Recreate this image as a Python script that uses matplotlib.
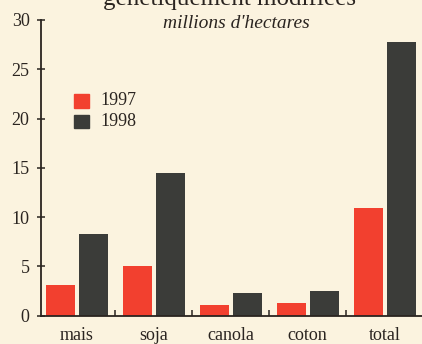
import matplotlib
matplotlib.use("Agg")
import matplotlib.pyplot as plt
import numpy as np

# Surfaces en cultures génétiquement modifiées (millions d'hectares)
categories = ["mais", "soja", "canola", "coton", "total"]
values_1997 = [3.1, 5.0, 1.05, 1.25, 10.9]
values_1998 = [8.3, 14.5, 2.3, 2.5, 27.8]
series_labels = ["1997", "1998"]
yticks = [0, 5, 10, 15, 20, 25, 30]

bg = "#fbf3df"
red = "#f2402f"
dark = "#3b3c39"
ink = "#2a2420"
font = "Liberation Serif"

fig = plt.figure(figsize=(4.22, 3.44), dpi=100, facecolor=bg)
ax = fig.add_axes([0.0964, 0.0823, 1 - 0.0964, 0.9419 - 0.0823], facecolor=bg)

x = np.arange(len(categories))
w = 0.377
off = 0.215
ax.bar(x - off, values_1997, w, color=red, zorder=2)
ax.bar(x + off, values_1998, w, color=dark, zorder=2)

ax.set_xlim(-0.4675, 4.484)
ax.set_ylim(0, 30)

for s in ["top", "right"]:
    ax.spines[s].set_visible(False)
for s in ["left", "bottom"]:
    ax.spines[s].set_color(ink)
    ax.spines[s].set_linewidth(1.3)

ax.set_yticks(yticks)
ax.set_yticklabels([str(v) for v in yticks], fontfamily=font, fontsize=13, color=ink)
ax.tick_params(axis="y", direction="inout", length=6, width=1.1, color=ink, pad=5)

ax.set_xticks(x)
ax.set_xticklabels(categories, fontfamily=font, fontsize=13, color=ink)
ax.tick_params(axis="x", which="major", length=0, pad=8)
ax.set_xticks(x[:-1] + 0.5, minor=True)
ax.tick_params(axis="x", which="minor", direction="in", length=4, width=1.1, color=ink)

# Legend drawn as two square patches with labels
lx, ly = 0.175, 0.687
sw, sh, step = 0.0355, 0.039, 0.060
for i, (lab, col) in enumerate(zip(series_labels, [red, dark])):
    fig.add_artist(plt.Rectangle((lx, ly - i * step), sw, sh,
                                 transform=fig.transFigure, color=col, zorder=3))
    fig.text(0.237, ly + sh / 2 - i * step, lab, fontfamily=font,
             fontsize=13, color=ink, va="center", ha="left")

fig.text(0.545, 1 - 5 / 344, "génétiquement modifiées", fontfamily=font,
         fontsize=18, color=ink, ha="center", va="baseline")
fig.text(0.559, 1 - 23 / 344, "millions d'hectares", fontfamily=font,
         fontstyle="italic", fontsize=14, color=ink, ha="center", va="center")

fig.savefig("out.png", dpi=100, facecolor=bg)
